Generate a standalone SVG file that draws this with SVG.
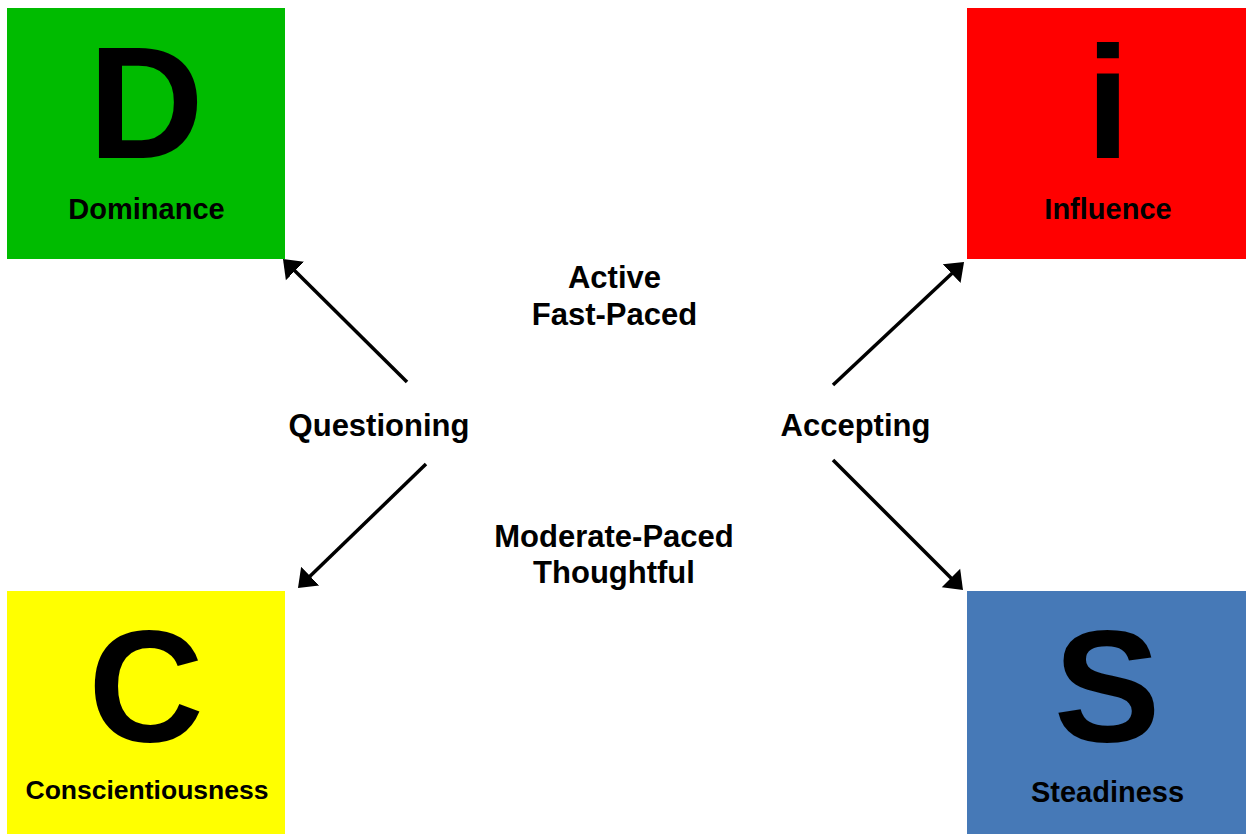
<svg xmlns="http://www.w3.org/2000/svg" width="1246" height="834" viewBox="0 0 1246 834">
  <style>
    text { font-family: "Liberation Sans", Arial, sans-serif; font-weight: bold; fill: #000; text-anchor: middle; }
    .big { font-size: 160px; }
    .lbl { font-size: 29px; }
    .mid { font-size: 31px; }
    .conn { stroke: #000; stroke-width: 3.5; fill: none; marker-end: url(#arrow); }
  </style>
  <defs>
    <marker id="arrow" markerUnits="userSpaceOnUse" viewBox="0 -14 18 28" refX="5" refY="0" markerWidth="18" markerHeight="28" orient="auto">
      <path d="M0,-13 L17,0 L0,13 Z" fill="#000"/>
    </marker>
  </defs>
  <rect width="1246" height="834" fill="#fff"/>

  <g id="node-d">
    <rect x="7" y="8" width="278" height="251" fill="#00BB00"/>
    <text class="big" x="146" y="158">D</text>
    <text class="lbl" x="146.5" y="219">Dominance</text>
  </g>
  <g id="node-i">
    <rect x="967" y="8" width="279" height="251" fill="#FF0000"/>
    <text class="big" x="1108" y="158">i</text>
    <text class="lbl" x="1108" y="219">Influence</text>
  </g>
  <g id="node-c">
    <rect x="7" y="591" width="278" height="243" fill="#FFFF00"/>
    <text class="big" x="146" y="741">C</text>
    <text x="147" y="799" style="font-size:26.5px">Conscientiousness</text>
  </g>
  <g id="node-s">
    <rect x="967" y="591" width="279" height="243" fill="#4679B7"/>
    <text class="big" x="1107" y="741">S</text>
    <text class="lbl" x="1107.5" y="802">Steadiness</text>
  </g>

  <g id="labels">
    <text class="mid" x="614.5" y="288">Active</text>
    <text class="mid" x="614.5" y="325">Fast-Paced</text>
    <text class="mid" x="614" y="547">Moderate-Paced</text>
    <text class="mid" x="614" y="583">Thoughtful</text>
    <text class="mid" x="379" y="436">Questioning</text>
    <text class="mid" x="855.5" y="436">Accepting</text>
  </g>

  <g id="connectors">
    <line class="conn" x1="407" y1="382" x2="291.5" y2="267.4"/>
    <line class="conn" x1="426" y1="464" x2="306.6" y2="579.6"/>
    <line class="conn" x1="833" y1="385" x2="955.3" y2="270.2"/>
    <line class="conn" x1="833" y1="460" x2="954.5" y2="581.5"/>
  </g>
</svg>
